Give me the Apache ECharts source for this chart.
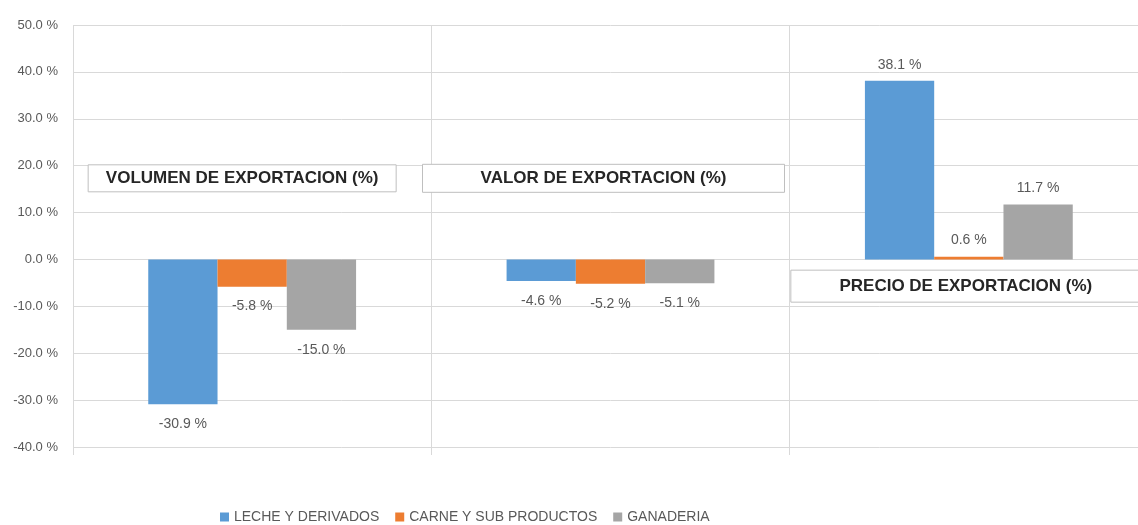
<!DOCTYPE html>
<html>
<head>
<meta charset="utf-8">
<script src="https://cdn.jsdelivr.net/npm/echarts@6/dist/echarts.min.js"></script>
<style>
  html, body { margin: 0; padding: 0; background: #fff; overflow: hidden; }
  /* the source chart runs past the right edge of the picture, so the canvas is a bit wider than the window */
  #chart { width: 1150px; height: 525px; }
</style>
</head>
<body>
<div id="chart"></div>
<script>
const categories = ["VOLUMEN DE EXPORTACION (%)", "VALOR DE EXPORTACION (%)", "PRECIO DE EXPORTACION (%)"];
const seriesNames = ["LECHE Y DERIVADOS", "CARNE Y SUB PRODUCTOS", "GANADERIA"];
const leche = [-30.9, -4.6, 38.1];
const carne = [-5.8, -5.2, 0.6];
const ganaderia = [-15.0, -5.1, 11.7];
const yMin = -40;
const yMax = 50;
const yStep = 10;

const colors = ["#5b9bd5", "#ed7d31", "#a5a5a5"];
const textGray = "#595959";
const gridGray = "#d9d9d9";
const font = "'Liberation Sans', Arial, sans-serif";

// where the category title boxes sit: value on the y scale, width, x shift from category centre
const boxSpots = [
  { value: 17.3, width: 308, shift: -10, height: 27 },
  { value: 17.3, width: 362, shift: -7, height: 28 },
  { value: -5.7, width: 350, shift: -3, height: 32 }
];

const chart = echarts.init(document.getElementById("chart"));

function withLabels(values) {
  return values.map((v) => ({
    value: v,
    label: { position: v < 0 ? "bottom" : "top", distance: v < 0 ? 13 : 9 }
  }));
}

const allSeries = [leche, carne, ganaderia].map((vals, i) => ({
  name: seriesNames[i],
  type: "bar",
  data: withLabels(vals),
  barGap: "0%",
  barCategoryGap: "42%",
  itemStyle: { color: colors[i] },
  label: {
    show: true,
    color: textGray,
    fontSize: 14,
    fontFamily: font,
    formatter: (p) => p.value.toFixed(1) + " %"
  }
}));

const option = {
  animation: false,
  backgroundColor: "#fff",
  grid: { left: 73, top: 25, width: 1075, height: 422, containLabel: false },
  legend: {
    left: 220,
    bottom: 1,
    padding: 0,
    icon: "rect",
    itemWidth: 9,
    itemHeight: 9,
    itemGap: 16,
    textStyle: { color: textGray, fontSize: 14, fontFamily: font }
  },
  xAxis: {
    type: "category",
    data: categories,
    axisLine: { show: false, onZero: false },
    axisTick: { show: true, length: 8, lineStyle: { color: gridGray } },
    axisLabel: { show: false },
    splitLine: { show: true, lineStyle: { color: gridGray } }
  },
  yAxis: {
    type: "value",
    min: yMin,
    max: yMax,
    interval: yStep,
    axisLine: { show: false },
    axisTick: { show: false },
    splitLine: { lineStyle: { color: gridGray } },
    axisLabel: {
      color: textGray,
      fontSize: 13,
      fontFamily: font,
      margin: 15,
      formatter: (v) => v.toFixed(1) + " %"
    }
  },
  series: allSeries
};

chart.setOption(option);

const boxes = categories.map((name, i) => {
  const spot = boxSpots[i];
  const cx = chart.convertToPixel({ xAxisIndex: 0 }, name) + spot.shift;
  const cy = chart.convertToPixel({ yAxisIndex: 0 }, spot.value);
  return {
    type: "group",
    x: cx - spot.width / 2,
    y: cy - spot.height / 2,
    children: [
      {
        type: "rect",
        shape: { x: 0, y: 0, width: spot.width, height: spot.height },
        style: { fill: "#fff", stroke: "#bfbfbf", lineWidth: 1 }
      },
      {
        type: "text",
        x: spot.width / 2,
        y: spot.height / 2,
        style: {
          text: name,
          fill: "#262626",
          font: "bold 17px " + font,
          align: "center",
          verticalAlign: "middle"
        }
      }
    ]
  };
});

chart.setOption({ graphic: boxes });
</script>
</body>
</html>
